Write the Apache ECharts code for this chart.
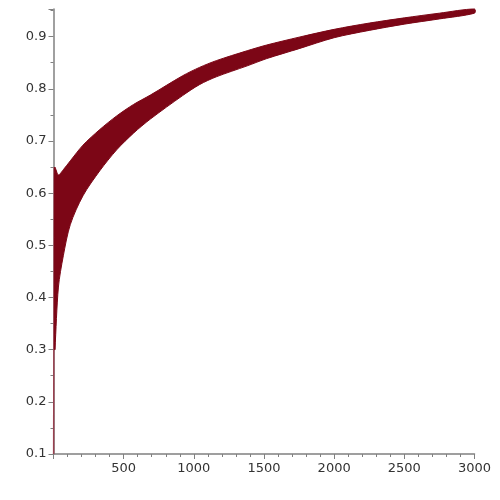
<!DOCTYPE html>
<html>
<head>
<meta charset="utf-8">
<script src="https://cdn.jsdelivr.net/npm/echarts@6/dist/echarts.min.js"></script>
<style>
  html, body { margin: 0; padding: 0; background: #fff; }
  #chart { width: 500px; height: 500px; }
</style>
</head>
<body>
<div id="chart"></div>
<script>
// envelope of the oscillating sequence
var bandX     = [8,    10,   35,   70,    120,   210,   330,   450,   570,   690,   920,   1040,  1160,  1380,  1520,  1750,  2000,  2250,  2500,  2750,  3000];
var bandLower = [0.30, 0.30, 0.42, 0.48,  0.54,  0.595, 0.643, 0.683, 0.715, 0.742, 0.787, 0.808, 0.823, 0.844, 0.858, 0.877, 0.898, 0.912, 0.924, 0.934, 0.945];
var bandUpper = [0.64, 0.65, 0.635,0.645, 0.662, 0.692, 0.722, 0.748, 0.770, 0.788, 0.825, 0.841, 0.854, 0.873, 0.884, 0.899, 0.914, 0.926, 0.936, 0.945, 0.953];

// first few terms (the thin spike at the start)
var startX = [1,   5,    9];
var startY = [0.1, 0.65, 0.30];

var xTicks = [500, 1000, 1500, 2000, 2500, 3000];
var yTicks = [0.1, 0.2, 0.3, 0.4, 0.5, 0.6, 0.7, 0.8, 0.9];

var curveColor = '#7c0616';
var axisColor = '#808080';

var myChart = echarts.init(document.getElementById('chart'));

var bandData = [];
for (var i = 0; i < bandX.length; i++) {
    bandData.push([bandX[i], bandLower[i], bandUpper[i]]);
}
var startData = [];
for (var i = 0; i < startX.length; i++) {
    startData.push([startX[i], startY[i]]);
}

// whole band as one polygon: upper edge left->right, lower edge back
function renderBand(params, api) {
    if (params.dataIndex !== 0) return null;
    var pts = [];
    for (var i = 0; i < bandData.length; i++) {
        pts.push(api.coord([bandData[i][0], bandData[i][2]]));
    }
    for (var i = bandData.length - 1; i >= 0; i--) {
        pts.push(api.coord([bandData[i][0], bandData[i][1]]));
    }
    return {
        type: 'polygon',
        shape: { points: pts, smooth: 0.3 },
        style: { fill: curveColor, stroke: curveColor, lineWidth: 1 }
    };
}

var option = {
    animation: false,
    backgroundColor: '#fff',
    grid: { left: 53.5, right: 25.5, top: 9, bottom: 46, containLabel: false },
    xAxis: {
        type: 'value',
        min: 0,
        max: 3000,
        interval: 500,
        axisLine: { show: true, lineStyle: { color: axisColor, width: 1.5 } },
        axisTick: { show: true, length: 5, lineStyle: { color: axisColor } },
        minorTick: { show: true, splitNumber: 5, length: 3, lineStyle: { color: axisColor } },
        splitLine: { show: false },
        axisLabel: {
            color: '#333', fontFamily: 'DejaVu Sans', fontSize: 13, margin: 8,
            formatter: function (v) { return xTicks.indexOf(v) >= 0 ? String(v) : ''; }
        }
    },
    yAxis: {
        type: 'value',
        min: 0.1,
        max: 0.953,
        interval: 0.1,
        axisLine: { show: true, lineStyle: { color: axisColor, width: 1.5 } },
        axisTick: { show: true, length: 5, lineStyle: { color: axisColor } },
        minorTick: { show: true, splitNumber: 2, length: 3, lineStyle: { color: axisColor } },
        splitLine: { show: false },
        axisLabel: {
            color: '#333', fontFamily: 'DejaVu Sans', fontSize: 13, margin: 7,
            showMaxLabel: false,
            formatter: function (v) {
                var r = Math.round(v * 10) / 10;
                return (Math.abs(v - r) < 1e-6 && yTicks.indexOf(r) >= 0) ? r.toFixed(1) : '';
            }
        }
    },
    series: [
        {
            type: 'custom',
            renderItem: renderBand,
            encode: { x: 0, y: [1, 2] },
            data: bandData,
            z: 2
        },
        {
            type: 'line',
            data: startData,
            showSymbol: false,
            lineStyle: { color: '#9a4050', width: 1.5 },
            z: 1
        }
    ]
};

myChart.setOption(option);
</script>
</body>
</html>
